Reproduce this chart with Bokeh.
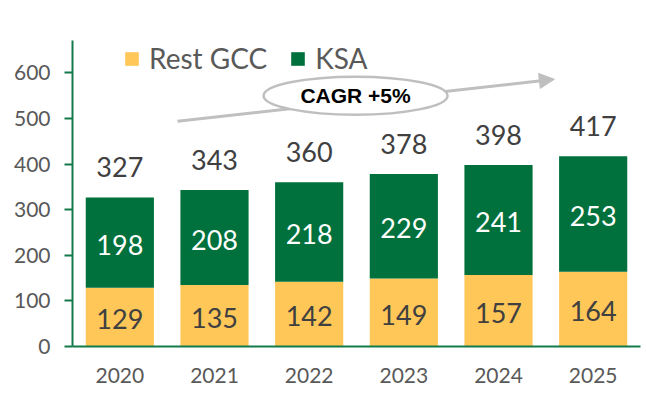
from bokeh.plotting import figure
from bokeh.models import (ColumnDataSource, Legend, LegendItem, Arrow, NormalHead,
                          FixedTicker, Range1d, FactorRange)
from bokeh.embed import file_html
from bokeh.resources import INLINE
from bokeh.core.properties import value

# ---- data ----
years = ["2020", "2021", "2022", "2023", "2024", "2025"]
rest_gcc = [129, 135, 142, 149, 157, 164]
ksa = [198, 208, 218, 229, 241, 253]
totals = [327, 343, 360, 378, 398, 417]
y_ticks = [0, 100, 200, 300, 400, 500, 600]
series_names = ["Rest GCC", "KSA"]
cagr_label = "CAGR +5%"

# ---- style ----
YELLOW = "#FFC758"
GREEN = "#00703C"
AXIS = "#127A4A"
GREY_TXT = "#595959"
DARK_TXT = "#404040"
ANNOT = "#BFBFBF"
FONT = "Lato"

src = ColumnDataSource(dict(
    year=years, rest=rest_gcc, ksa=ksa, total=totals,
    rest_mid=[r / 2 for r in rest_gcc],
    ksa_mid=[r + k / 2 for r, k in zip(rest_gcc, ksa)],
    rest_txt=[str(v) for v in rest_gcc],
    ksa_txt=[str(v) for v in ksa],
    total_txt=[str(v) for v in totals],
))

p = figure(x_range=FactorRange(*years), y_range=Range1d(0, 671),
           width=646, height=401, output_backend="svg", toolbar_location=None,
           min_border_left=72, min_border_right=6, min_border_top=40,
           min_border_bottom=55)

bars = p.vbar_stack(["rest", "ksa"], x="year", width=0.72, source=src,
                    color=[YELLOW, GREEN], line_color=None)

# labels
p.text(x="year", y="rest_mid", text="rest_txt", source=src, text_align="center",
       text_baseline="alphabetic", y_offset=2, text_font=value(FONT),
       text_font_size="27px", text_color=DARK_TXT)
p.text(x="year", y="ksa_mid", text="ksa_txt", source=src, text_align="center",
       text_baseline="alphabetic", y_offset=2, text_font=value(FONT),
       text_font_size="27px", text_color="white")
p.text(x="year", y="total", text="total_txt", source=src, text_align="center",
       text_baseline="alphabetic", y_offset=-30, text_font=value(FONT),
       text_font_size="27px", text_color=DARK_TXT)

# CAGR annotation
arrow = Arrow(end=NormalHead(size=15, fill_color=ANNOT, line_color=ANNOT),
              x_start=1.109, y_start=494, x_end=5.09, y_end=586,
              line_color=ANNOT, line_width=3, level="underlay")
p.add_layout(arrow)
p.ellipse(x=[2.99], y=[550], width=184, height=38, width_units="screen",
          height_units="screen", fill_color="white", line_color=ANNOT, line_width=2.5)
p.text(x=[2.99], y=[550], text=[cagr_label], text_align="center", text_baseline="middle",
       text_font=value("Liberation Sans"), text_font_style="bold",
       text_font_size="21px", text_color="black")

legend = Legend(items=[LegendItem(label=series_names[0], renderers=[bars[0]]),
                       LegendItem(label=series_names[1], renderers=[bars[1]])],
                orientation="horizontal", location=(51, 271),
                glyph_width=17, glyph_height=17, label_standoff=9, spacing=22,
                padding=0, margin=0, label_text_font=FONT,
                label_text_font_size="28px", label_text_color=GREY_TXT,
                border_line_color=None, background_fill_alpha=0)
p.add_layout(legend)

# axes
p.xgrid.grid_line_color = None
p.ygrid.grid_line_color = None
p.outline_line_color = None

p.xaxis.axis_line_color = AXIS
p.xaxis.axis_line_width = 2
p.xaxis.major_tick_line_color = None
p.xaxis.minor_tick_line_color = None
p.xaxis.major_label_text_font = FONT
p.xaxis.major_label_text_font_size = "21px"
p.xaxis.major_label_text_color = GREY_TXT
p.xaxis.major_label_standoff = 15

p.yaxis.ticker = FixedTicker(ticks=y_ticks)
p.yaxis.axis_line_color = AXIS
p.yaxis.axis_line_width = 2
p.yaxis.major_tick_line_color = AXIS
p.yaxis.major_tick_line_width = 2
p.yaxis.major_tick_out = 8
p.yaxis.major_tick_in = 0
p.yaxis.minor_tick_line_color = None
p.yaxis.major_label_text_font = FONT
p.yaxis.major_label_text_font_size = "21px"
p.yaxis.major_label_text_color = GREY_TXT
p.yaxis.major_label_standoff = 14

open("out.html", "w").write(file_html(p, INLINE))
